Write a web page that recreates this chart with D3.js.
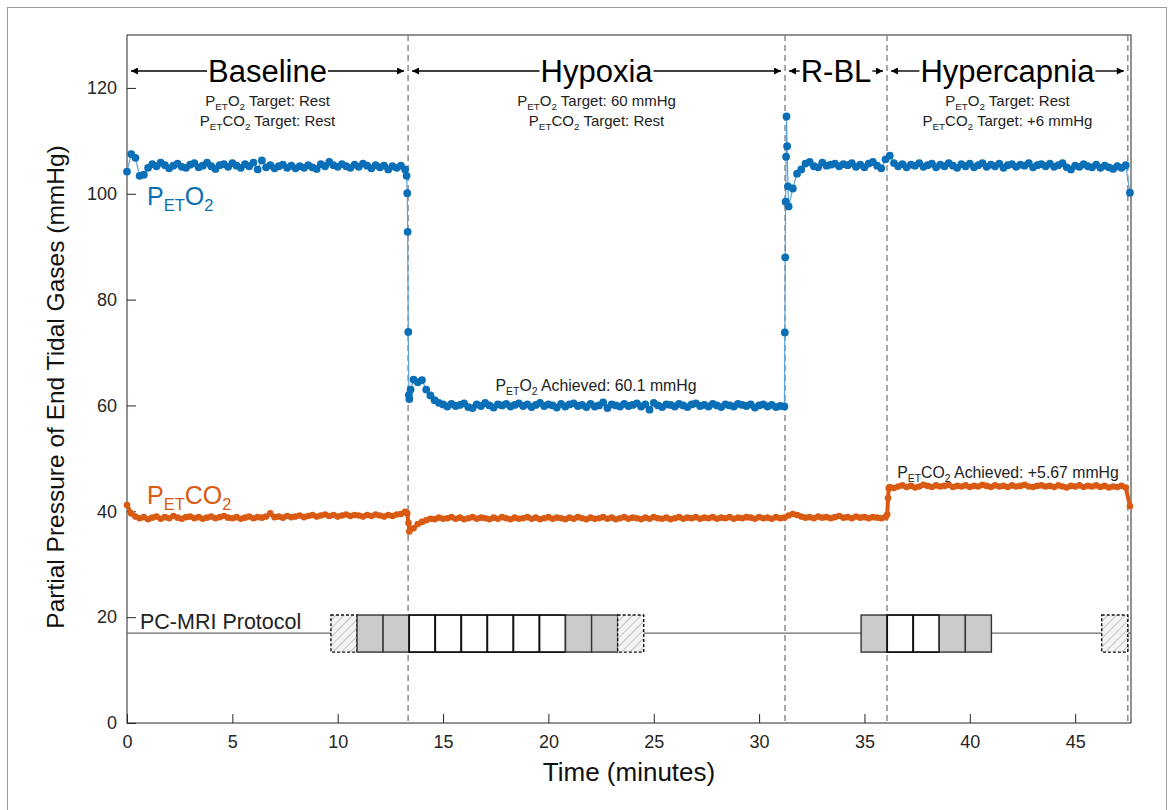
<!DOCTYPE html>
<html>
<head>
<meta charset="utf-8">
<script src="https://cdn.jsdelivr.net/npm/d3@7"></script>
<style>
body { margin: 0; background: #fff; }
text { font-family: "Liberation Sans", Arial, sans-serif; }
</style>
</head>
<body>
<svg id="chart" width="1173" height="810"></svg>
<script>
// end tidal gases, one breath sample every 0.2 min starting at t = 0
var sampleStep = 0.2;

var o2Values = [
	104.2,107.5,106.8,103.4,103.6,104.9,105.6,105.2,105.9,105.4,
	104.8,105.3,105.7,105.1,104.9,105.5,105.8,105.0,105.3,105.9,
	105.2,104.7,105.4,105.6,105.1,105.8,105.3,104.9,105.6,105.2,
	105.9,104.6,106.3,105.0,105.4,104.8,105.2,105.5,104.9,105.3,
	104.8,105.2,104.9,105.4,105.0,104.7,105.6,105.2,106.0,105.4,
	105.1,105.6,105.2,104.9,105.5,105.1,105.7,105.3,104.8,105.4,
	105.0,105.3,104.6,105.2,104.9,105.3,104.6,61.2,64.9,64.4,
	64.8,63.0,61.9,61.0,60.5,60.2,59.8,60.3,59.9,60.1,
	60.4,59.7,59.5,60.2,59.9,60.5,60.0,59.6,60.2,60.0,
	60.3,59.8,60.1,60.4,59.9,60.2,59.7,60.1,60.5,59.9,
	60.2,60.0,59.6,60.3,59.8,60.2,60.4,59.9,60.1,59.7,
	60.3,59.8,60.0,60.6,59.5,60.2,60.0,59.8,60.3,59.9,
	60.1,60.4,59.8,60.2,59.2,60.5,60.0,59.7,60.2,60.1,
	59.8,60.3,60.0,59.7,60.2,60.4,59.9,60.1,59.8,60.3,
	60.0,59.7,60.2,60.0,59.8,60.3,60.1,59.9,60.2,59.6,
	60.0,60.2,59.8,60.1,59.7,59.9,59.8,97.6,101.0,103.8,
	104.6,105.7,106.0,105.2,105.0,105.9,105.3,105.5,105.7,105.2,
	105.6,105.4,105.8,105.1,105.5,105.0,105.7,106.0,105.3,104.8,
	106.5,107.2,105.8,105.2,105.6,105.0,105.5,105.3,105.8,105.1,
	105.4,105.7,105.0,105.5,105.2,105.8,105.3,104.9,105.6,105.2,
	105.7,105.0,105.4,105.8,105.1,105.5,105.2,105.7,104.9,105.4,
	105.6,105.1,105.5,105.3,105.8,105.0,105.4,105.6,105.2,105.7,
	105.1,105.4,105.8,105.0,104.6,105.3,105.1,105.6,105.2,105.0,
	105.5,104.9,105.3,105.0,104.7,105.2,104.9,105.4,100.2
];

// extra breaths during the fast transitions
var o2ExtraTimes = [13.27, 13.30, 13.32, 13.35, 13.38, 13.46, 31.22, 31.24, 31.26, 31.28, 31.30, 31.33, 31.37];
var o2ExtraValues = [103.4, 100.1, 92.8, 73.9, 62.0, 63.0, 73.8, 88.0, 98.5, 107.0, 114.6, 109.0, 101.4];

var co2Values = [
	41.2,39.6,39.0,38.7,38.9,38.5,38.8,39.0,38.6,38.9,
	38.7,39.1,38.8,38.6,38.9,39.0,38.7,38.9,38.6,38.8,
	39.0,38.7,38.9,39.1,38.8,38.7,38.9,38.6,38.8,39.0,
	38.7,38.9,38.8,39.0,39.6,38.9,39.0,38.8,39.1,38.9,
	39.0,39.2,38.9,39.1,39.3,39.0,39.2,39.4,39.1,39.3,
	39.0,39.2,39.4,39.1,39.3,39.2,39.0,39.3,39.1,39.4,
	39.2,39.0,39.3,39.1,39.4,39.5,39.9,36.2,36.8,37.6,
	38.0,38.3,38.6,38.5,38.8,38.6,38.7,38.9,38.6,38.8,
	38.5,38.7,38.9,38.6,38.8,38.7,38.5,38.8,38.6,38.9,
	38.7,38.5,38.8,38.6,38.7,38.9,38.6,38.8,38.5,38.7,
	38.9,38.6,38.8,38.7,38.5,38.8,38.6,38.9,38.7,38.5,
	38.8,38.6,38.7,38.9,38.6,38.8,38.5,38.7,38.9,38.6,
	38.8,38.7,38.5,38.8,38.6,38.9,38.7,38.6,38.8,38.5,
	38.7,38.9,38.6,38.8,38.7,38.9,38.6,38.8,38.7,38.9,
	38.6,38.8,38.7,38.9,38.6,38.8,38.7,38.9,38.8,38.6,
	38.9,38.7,38.8,38.6,38.9,38.7,38.8,39.2,39.5,39.3,
	39.0,38.8,38.9,38.7,39.0,38.8,38.9,38.7,38.9,39.1,
	38.8,38.9,38.7,39.0,38.8,38.9,38.7,38.9,38.8,38.7,
	38.9,44.6,44.4,44.7,44.9,44.6,44.8,44.5,44.7,45.0,
	44.8,44.6,44.9,44.7,44.8,45.0,44.6,44.8,44.7,44.9,
	44.6,44.8,44.7,45.0,44.8,44.6,44.9,44.7,44.8,44.6,
	44.9,44.7,44.8,45.0,44.7,44.6,44.8,44.9,44.7,44.8,
	44.6,44.9,44.7,44.5,44.8,44.7,44.9,44.6,44.8,44.7,
	44.9,44.6,44.8,44.5,44.7,44.6,44.8,44.5,41.0
];

var co2ExtraTimes = [13.30, 13.36, 36.08, 36.12, 36.15];
var co2ExtraValues = [39.6, 37.8, 39.4, 42.5, 44.3];

// protocol phases
var phaseNames = ["Baseline", "Hypoxia", "R-BL", "Hypercapnia"];
var phaseEdges = [0, 13.34, 31.23, 36.07, 47.5];
var phaseO2Target = ["Rest", "60 mmHg", null, "Rest"];
var phaseCO2Target = ["Rest", "Rest", null, "+6 mmHg"];

// PC-MRI scan blocks
var scanGroupStart = [9.68, 34.84, 46.26];
var scanGroupBlocks = [
	["hatched","gray","gray","white","white","white","white","white","white","gray","gray","hatched"],
	["gray","white","white","gray","gray"],
	["hatched"]
];
var scanBlockMinutes = 1.237;

var xTicks = [0, 5, 10, 15, 20, 25, 30, 35, 40, 45];
var yTicks = [0, 20, 40, 60, 80, 100, 120];

var o2Color = "#0a6fb6";
var o2LineColor = "#5ba3d9";
var co2Color = "#d95a12";
var axisColor = "#262626";

var svg = d3.select("#chart");

var x = d3.scaleLinear().domain([0, 47.65]).range([127, 1131]);
var y = d3.scaleLinear().domain([0, 130]).range([723, 35]);

function buildSeries(values, extraTimes, extraValues)
{
	var pts = values.map(function(v, i){ return {t: i * sampleStep, v: v}; });
	extraTimes.forEach(function(t, i){ pts.push({t: t, v: extraValues[i]}); });
	pts.sort(function(a, b){ return a.t - b.t; });
	return pts;
}

var o2Series = buildSeries(o2Values, o2ExtraTimes, o2ExtraValues);
var co2Series = buildSeries(co2Values, co2ExtraTimes, co2ExtraValues);

// outer figure frame
svg.append("rect")
	.attr("x", 7.5).attr("y", 7.5)
	.attr("width", 1159).attr("height", 820)
	.attr("fill", "none").attr("stroke", "#9a9a9a").attr("stroke-width", 1);

var defs = svg.append("defs");
var hatch = defs.append("pattern")
	.attr("id", "hatch")
	.attr("patternUnits", "userSpaceOnUse")
	.attr("width", 6).attr("height", 6)
	.attr("patternTransform", "rotate(45)");
hatch.append("rect").attr("width", 6).attr("height", 6).attr("fill", "#f4f4f4");
hatch.append("line").attr("x1", 0).attr("y1", 0).attr("x2", 0).attr("y2", 6)
	.attr("stroke", "#b8b8b8").attr("stroke-width", 1.6);

defs.append("marker")
	.attr("id", "arrowHead")
	.attr("viewBox", "0 0 10 10")
	.attr("refX", 10).attr("refY", 5)
	.attr("markerWidth", 10).attr("markerHeight", 7)
	.attr("markerUnits", "userSpaceOnUse")
	.attr("orient", "auto")
	.append("path")
	.attr("d", "M0,0L10,5L0,10Z")
	.attr("fill", "#000");

// axes with inward ticks
var xAxis = svg.append("g")
	.attr("transform", "translate(0," + y(0) + ")")
	.call(d3.axisBottom(x).tickValues(xTicks).tickSize(-9).tickPadding(12));
var yAxis = svg.append("g")
	.attr("transform", "translate(" + x(0) + ",0)")
	.call(d3.axisLeft(y).tickValues(yTicks).tickSize(-9).tickPadding(10));

[xAxis, yAxis].forEach(function(ax)
{
	ax.select(".domain").remove();
	ax.selectAll("line").attr("stroke", axisColor);
	ax.selectAll("text")
		.attr("fill", axisColor)
		.style("font-size", "18px")
		.style("font-family", "'Liberation Sans', Arial, sans-serif");
});

// plot box
svg.append("rect")
	.attr("x", x(0)).attr("y", y(130))
	.attr("width", x(47.65) - x(0)).attr("height", y(0) - y(130))
	.attr("fill", "none").attr("stroke", axisColor).attr("stroke-width", 1);

// phase boundaries
svg.selectAll(".bound")
	.data(phaseEdges.slice(1))
	.enter().append("line")
	.attr("x1", function(d){ return x(d); })
	.attr("x2", function(d){ return x(d); })
	.attr("y1", y(130))
	.attr("y2", y(0))
	.attr("stroke", "#7a7a7a")
	.attr("stroke-width", 1.3)
	.attr("stroke-dasharray", "6,4");

// helper for text with subscripts: parts = [[text, isSub], ...]
function richText(parent, px, py, parts, size, anchor, color)
{
	var t = parent.append("text")
		.attr("x", px).attr("y", py)
		.attr("text-anchor", anchor)
		.attr("fill", color)
		.style("font-size", size + "px");
	var down = false;
	parts.forEach(function(p)
	{
		var ts = t.append("tspan").text(p[0]);
		if(p[1] && !down)
		{
			ts.attr("dy", size * 0.25).style("font-size", (size * 0.66) + "px");
			down = true;
		}
		else if(p[1])
		{
			ts.style("font-size", (size * 0.66) + "px");
		}
		else if(down)
		{
			ts.attr("dy", -size * 0.25);
			down = false;
		}
	});
	return t;
}

// phase titles with double arrows
var arrowY = 71;
phaseNames.forEach(function(name, i)
{
	var left = x(phaseEdges[i]) + 4;
	var right = x(phaseEdges[i + 1]) - 4;
	var mid = (left + right) / 2;
	var label = svg.append("text")
		.attr("x", mid).attr("y", arrowY + 11)
		.attr("text-anchor", "middle")
		.attr("fill", "#000")
		.style("font-size", "31px")
		.text(name);
	var w = label.node().getComputedTextLength();
	svg.append("line")
		.attr("x1", mid - w / 2 - 1).attr("y1", arrowY)
		.attr("x2", left).attr("y2", arrowY)
		.attr("stroke", "#000").attr("stroke-width", 1.4)
		.attr("marker-end", "url(#arrowHead)");
	svg.append("line")
		.attr("x1", mid + w / 2 + 1).attr("y1", arrowY)
		.attr("x2", right).attr("y2", arrowY)
		.attr("stroke", "#000").attr("stroke-width", 1.4)
		.attr("marker-end", "url(#arrowHead)");

	if(phaseO2Target[i])
	{
		richText(svg, mid, 106, [["P"],["ET",true],["O"],["2",true],[" Target: " + phaseO2Target[i]]], 15, "middle", "#222");
		richText(svg, mid, 126, [["P"],["ET",true],["CO"],["2",true],[" Target: " + phaseCO2Target[i]]], 15, "middle", "#222");
	}
});

// scan protocol timeline
var scanY = 17, scanTop = 20.4, scanBottom = 13.4;
svg.append("line")
	.attr("x1", x(0)).attr("x2", x(47.65))
	.attr("y1", y(scanY)).attr("y2", y(scanY))
	.attr("stroke", "#6a6a6a").attr("stroke-width", 1.2);

var scanBlocks = [];
scanGroupStart.forEach(function(s, g)
{
	scanGroupBlocks[g].forEach(function(kind, k)
	{
		scanBlocks.push({start: s + k * scanBlockMinutes, kind: kind});
	});
});

svg.selectAll(".scan")
	.data(scanBlocks)
	.enter().append("rect")
	.attr("x", function(d){ return x(d.start); })
	.attr("y", y(scanTop))
	.attr("width", function(d){ return x(d.start + scanBlockMinutes) - x(d.start); })
	.attr("height", y(scanBottom) - y(scanTop))
	.attr("fill", function(d){ return d.kind == "gray" ? "#cbcbcb" : (d.kind == "white" ? "#fff" : "url(#hatch)"); })
	.attr("stroke", function(d){ return d.kind == "gray" ? "#333" : "#111"; })
	.attr("stroke-width", function(d){ return d.kind == "white" ? 1.8 : 1.4; })
	.attr("stroke-dasharray", function(d){ return d.kind == "hatched" ? "3,2" : null; });

svg.append("text")
	.attr("x", 140).attr("y", 629)
	.attr("fill", "#222")
	.style("font-size", "21.5px")
	.text("PC-MRI Protocol");

// data series
var line = d3.line()
	.x(function(d){ return x(d.t); })
	.y(function(d){ return y(d.v); });

svg.append("path")
	.datum(co2Series)
	.attr("d", line)
	.attr("fill", "none")
	.attr("stroke", co2Color)
	.attr("stroke-width", 4);
svg.selectAll(".co2dot")
	.data(co2Series)
	.enter().append("circle")
	.attr("cx", function(d){ return x(d.t); })
	.attr("cy", function(d){ return y(d.v); })
	.attr("r", 3.3)
	.attr("fill", co2Color);

svg.append("path")
	.datum(o2Series)
	.attr("d", line)
	.attr("fill", "none")
	.attr("stroke", o2LineColor)
	.attr("stroke-width", 1.2);
svg.selectAll(".o2dot")
	.data(o2Series)
	.enter().append("circle")
	.attr("cx", function(d){ return x(d.t); })
	.attr("cy", function(d){ return y(d.v); })
	.attr("r", 3.9)
	.attr("fill", o2Color);

// series labels
richText(svg, 147, 205, [["P"],["ET",true],["O"],["2",true]], 25, "start", o2Color);
richText(svg, 147, 504, [["P"],["ET",true],["CO"],["2",true]], 25, "start", co2Color);

richText(svg, 596, 391, [["P"],["ET",true],["O"],["2",true],[" Achieved: 60.1 mmHg"]], 15.8, "middle", "#222");
richText(svg, 1008, 478, [["P"],["ET",true],["CO"],["2",true],[" Achieved: +5.67 mmHg"]], 15.8, "middle", "#222");

// axis titles
svg.append("text")
	.attr("x", (x(0) + x(47.65)) / 2).attr("y", 781)
	.attr("text-anchor", "middle")
	.attr("fill", "#111")
	.style("font-size", "26px")
	.text("Time (minutes)");

svg.append("text")
	.attr("transform", "translate(64," + ((y(0) + y(130)) / 2 + 8) + ") rotate(-90)")
	.attr("text-anchor", "middle")
	.attr("fill", "#111")
	.style("font-size", "24.5px")
	.text("Partial Pressure of End Tidal Gases (mmHg)");
</script>
</body>
</html>
